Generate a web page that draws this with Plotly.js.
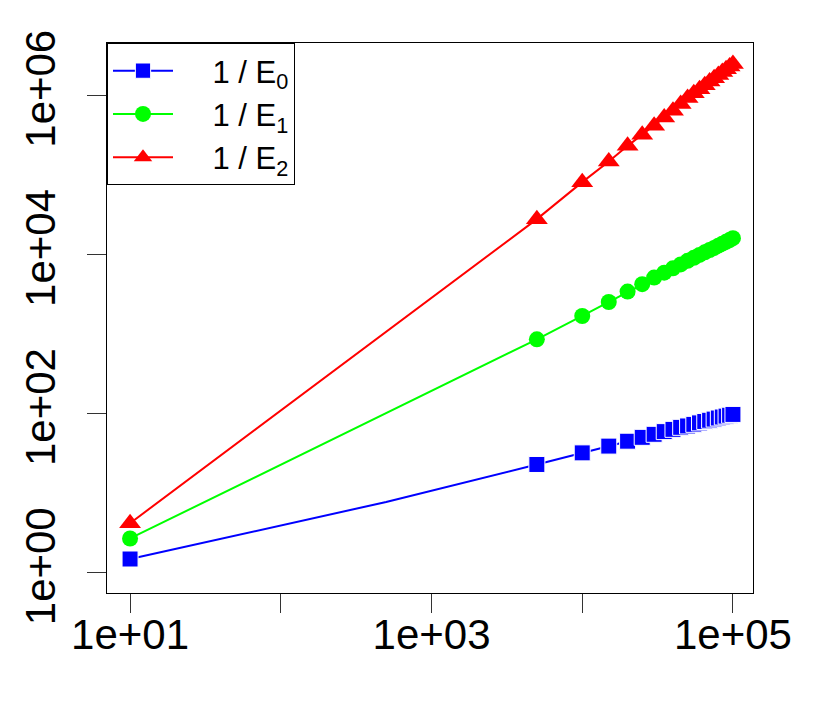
<!DOCTYPE html>
<html>
<head>
<meta charset="utf-8">
<script src="https://cdn.plot.ly/plotly-3.0.1.min.js"></script>
<style>
  body { margin: 0; background: #fff; }
  #chart { width: 830px; height: 706px; }
</style>
</head>
<body>
<div id="chart"></div>
<script>
// sample sizes (log scale); 500 is a vertex of the E0 line without a marker
const sampleN = [10, 5000, 10000, 15000, 20000, 25000, 30000, 35000, 40000, 45000, 50000,
    55000, 60000, 65000, 70000, 75000, 80000, 85000, 90000, 95000, 100000];
const blueN = [10, 500, 5000, 10000, 15000, 20000, 25000, 30000, 35000, 40000, 45000, 50000,
    55000, 60000, 65000, 70000, 75000, 80000, 85000, 90000, 95000, 100000];

const invE0 = [1.48, 7.7, 22.8, 31.9, 38.8, 44.7, 50, 54.6, 59, 63, 66.8, 69.5,
    72.8, 76, 79.1, 82, 84.8, 87.5, 90, 92.4, 94.8, 97];
const invE1 = [2.68, 853, 1675, 2510, 3390, 4200, 5080, 5870, 6650, 7450, 8250,
    9000, 9800, 10550, 11300, 12000, 12800, 13550, 14300, 15100, 15900];
const invE2 = [4.17, 27600, 80500, 146000, 230000, 317000, 411000, 522000, 634000, 771000, 916000,
    1050000, 1186000, 1330000, 1476000, 1630000, 1786000, 1946000, 2110000, 2280000, 2450000];

const seriesNames = ['1 / E<sub>0</sub>', '1 / E<sub>1</sub>', '1 / E<sub>2</sub>'];

const xTickVals = [10, 100, 1000, 10000, 100000];
const xTickText = ['1e+01', '', '1e+03', '', '1e+05'];
const yTickVals = [1, 100, 10000, 1000000];
const yTickText = ['1e+00', '1e+02', '1e+04', '1e+06'];

const pad = '&nbsp;&nbsp;&nbsp;&nbsp;';

const traces = [
    {
        x: blueN, y: invE0, name: pad + seriesNames[0],
        mode: 'lines+markers',
        line: {color: '#0000ff', width: 2},
        marker: {symbol: 'square', color: '#0000ff', opacity: 1,
            size: blueN.map(n => n === 500 ? 0 : 16)}
    },
    {
        x: sampleN, y: invE1, name: pad + seriesNames[1],
        mode: 'lines+markers',
        line: {color: '#00ff00', width: 2},
        marker: {symbol: 'circle', color: '#00ff00', size: 16}
    },
    {
        x: sampleN, y: invE2, name: pad + seriesNames[2],
        mode: 'lines+markers',
        line: {color: '#ff0000', width: 2},
        marker: {symbol: 'triangle-up', color: '#ff0000', size: 19}
    }
];

const axisFont = {family: 'Liberation Sans, Arial, sans-serif', size: 42, color: '#000'};

const layout = {
    width: 830,
    height: 706,
    margin: {l: 107, r: 77, t: 43, b: 113, pad: 0},
    paper_bgcolor: '#fff',
    plot_bgcolor: '#fff',
    showlegend: true,
    xaxis: {
        type: 'log',
        range: [0.847, 5.133],
        tickvals: xTickVals,
        ticktext: xTickText,
        ticks: 'outside',
        ticklen: 19,
        tickwidth: 1,
        tickcolor: '#333',
        ticklabelstandoff: -14,
        showline: true,
        mirror: true,
        linecolor: '#000',
        linewidth: 1,
        showgrid: false,
        zeroline: false,
        tickfont: axisFont
    },
    yaxis: {
        type: 'log',
        range: [-0.257, 6.654],
        tickvals: yTickVals,
        ticktext: yTickText,
        tickangle: -90,
        ticks: 'outside',
        ticklen: 19,
        tickwidth: 1,
        tickcolor: '#333',
        ticklabelstandoff: 15,
        showline: true,
        mirror: true,
        linecolor: '#000',
        linewidth: 1,
        showgrid: false,
        zeroline: false,
        tickfont: axisFont
    },
    legend: {
        x: 0, y: 1,
        xanchor: 'left', yanchor: 'top',
        bgcolor: '#fff',
        bordercolor: '#000',
        borderwidth: 1,
        font: {family: 'Liberation Sans, Arial, sans-serif', size: 31, color: '#000'},
        itemwidth: 60,
        tracegroupgap: 0
    }
};

Plotly.newPlot('chart', traces, layout, {displayModeBar: false, staticPlot: true});
</script>
</body>
</html>
